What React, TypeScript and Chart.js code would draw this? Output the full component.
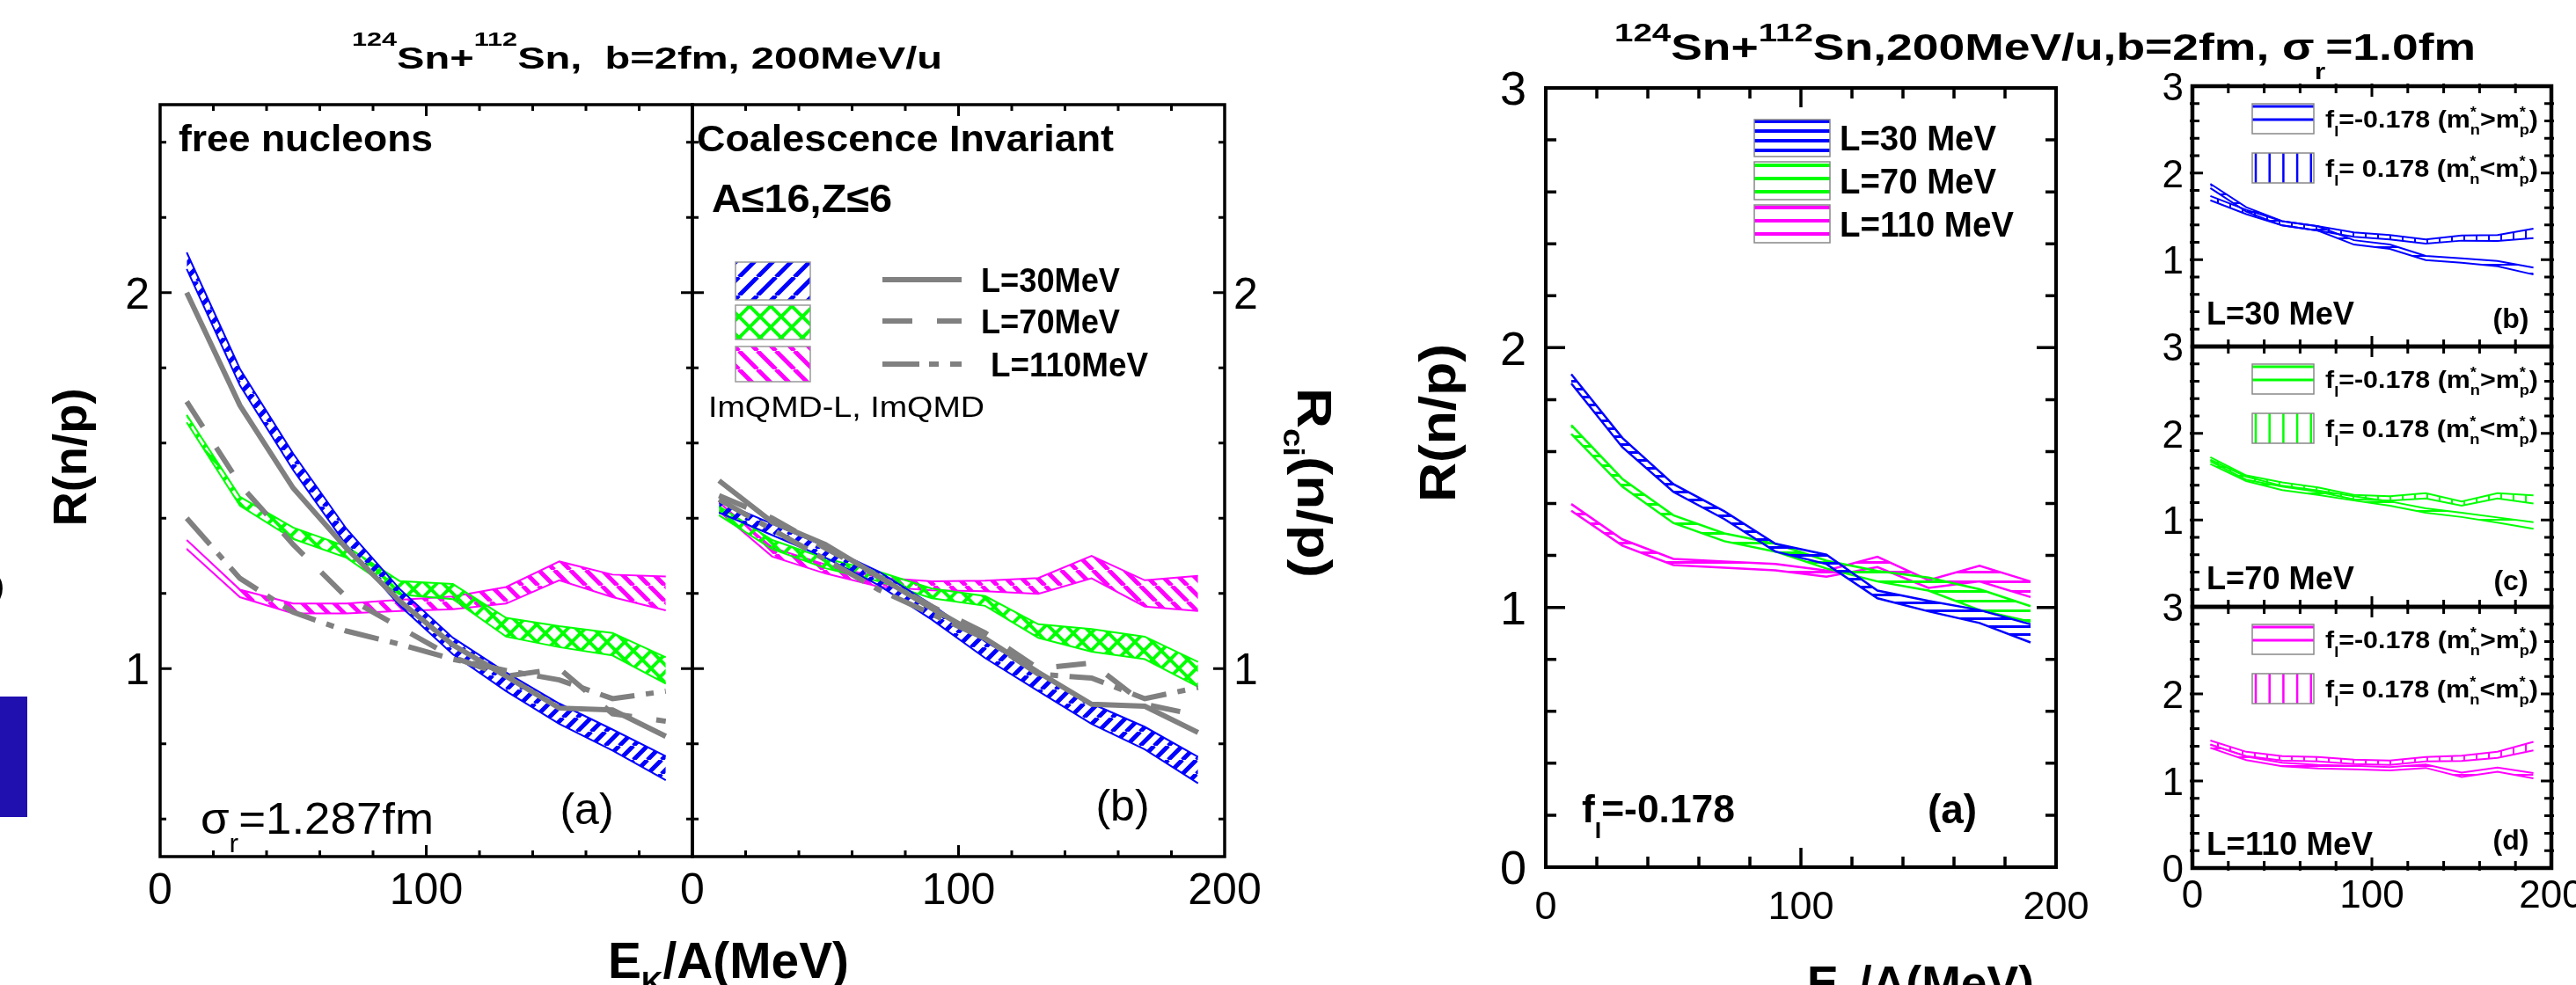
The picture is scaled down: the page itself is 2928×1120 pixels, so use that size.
import React, { useEffect, useRef } from 'react';
import { Chart, registerables } from 'chart.js';

Chart.register(...registerables);

const CW = 2928;
const CH = 1120;
const FONT = "'Liberation Sans', Arial, Helvetica, sans-serif";

// ---------------- data ----------------
const ENERGY = [10, 30, 50, 70, 90, 110, 130, 150, 170, 190];

// tick labels
const LEFT_X_TICKS_A = [0, 100];
const LEFT_X_TICKS_B = [0, 100, 200];
const LEFT_Y_TICKS = [1, 2];
const BIG_X_TICKS = [0, 100, 200];
const BIG_Y_TICKS = [0, 1, 2, 3];
const SMALL_Y_TICKS_UPPER = [1, 2, 3];
const SMALL_Y_TICKS_BOTTOM = [0, 1, 2, 3];
const SMALL_X_TICKS = [0, 100, 200];

// Left figure, panel (a): free nucleons, ImQMD-L bands
const FREE_L30_UP = [2.107, 1.797, 1.572, 1.372, 1.212, 1.082, 0.99, 0.907, 0.838, 0.767];
const FREE_L30_LO = [2.063, 1.753, 1.528, 1.328, 1.168, 1.038, 0.94, 0.853, 0.782, 0.703];
const FREE_L70_UP = [1.675, 1.457, 1.375, 1.325, 1.233, 1.225, 1.135, 1.113, 1.095, 1.03];
const FREE_L70_LO = [1.655, 1.433, 1.345, 1.295, 1.197, 1.185, 1.085, 1.057, 1.035, 0.96];
const FREE_L110_UP = [1.342, 1.21, 1.173, 1.173, 1.183, 1.192, 1.217, 1.285, 1.25, 1.245];
const FREE_L110_LO = [1.318, 1.19, 1.147, 1.147, 1.153, 1.158, 1.173, 1.235, 1.19, 1.155];
// ImQMD lines (gray)
const FREE_IMQMD_L30 = [2.0, 1.7, 1.48, 1.32, 1.18, 1.063, 0.98, 0.895, 0.89, 0.82];
const FREE_IMQMD_L70 = [1.71, 1.49, 1.33, 1.19, 1.11, 1.03, 0.98, 1.0, 0.88, 0.86];
const FREE_IMQMD_L110 = [1.4, 1.24, 1.15, 1.1, 1.065, 1.025, 0.995, 0.97, 0.92, 0.94];

// Left figure, panel (b): coalescence invariant
const CI_L30_UP = [1.445, 1.385, 1.325, 1.258, 1.17, 1.072, 0.99, 0.907, 0.845, 0.765];
const CI_L30_LO = [1.415, 1.355, 1.295, 1.222, 1.13, 1.028, 0.94, 0.853, 0.785, 0.695];
const CI_L70_UP = [1.432, 1.342, 1.293, 1.258, 1.213, 1.193, 1.118, 1.105, 1.085, 1.018];
const CI_L70_LO = [1.408, 1.318, 1.267, 1.232, 1.187, 1.167, 1.082, 1.045, 1.025, 0.952];
const CI_L110_UP = [1.442, 1.322, 1.277, 1.242, 1.232, 1.234, 1.241, 1.3, 1.235, 1.247];
const CI_L110_LO = [1.418, 1.298, 1.253, 1.218, 1.208, 1.206, 1.199, 1.24, 1.165, 1.153];
const CI_IMQMD_L30 = [1.5, 1.39, 1.33, 1.245, 1.16, 1.08, 0.99, 0.905, 0.9, 0.83];
const CI_IMQMD_L70 = [1.46, 1.4, 1.32, 1.245, 1.165, 1.095, 1.0, 1.015, 0.905, 0.876];
const CI_IMQMD_L110 = [1.45, 1.37, 1.29, 1.21, 1.145, 1.08, 0.985, 0.975, 0.92, 0.95];

// Right figure, big panel (a): fI = -0.178
const BIG_L30_UP = [1.898, 1.653, 1.475, 1.37, 1.245, 1.203, 1.065, 1.025, 0.99, 0.935];
const BIG_L30_LO = [1.862, 1.617, 1.445, 1.34, 1.215, 1.167, 1.035, 0.985, 0.94, 0.865];
const BIG_L70_UP = [1.702, 1.495, 1.355, 1.285, 1.245, 1.18, 1.14, 1.115, 1.07, 1.005];
const BIG_L70_LO = [1.668, 1.465, 1.325, 1.255, 1.215, 1.15, 1.1, 1.065, 0.99, 0.945];
const BIG_L110_UP = [1.398, 1.262, 1.187, 1.177, 1.167, 1.142, 1.195, 1.105, 1.16, 1.1];
const BIG_L110_LO = [1.372, 1.238, 1.163, 1.153, 1.143, 1.118, 1.155, 1.075, 1.1, 1.04];

// Right figure, small panels: fI = -0.178 (NEG) and fI = +0.178 (POS)
const S30_NEG_UP = [1.875, 1.605, 1.445, 1.385, 1.225, 1.175, 1.045, 1.015, 0.985, 0.91];
const S30_NEG_LO = [1.825, 1.555, 1.395, 1.335, 1.175, 1.125, 0.995, 0.965, 0.925, 0.83];
const S30_POS_UP = [1.735, 1.575, 1.445, 1.385, 1.315, 1.285, 1.235, 1.28, 1.285, 1.357];
const S30_POS_LO = [1.685, 1.525, 1.395, 1.335, 1.265, 1.235, 1.185, 1.22, 1.215, 1.249];
const S70_NEG_UP = [1.695, 1.5, 1.395, 1.34, 1.275, 1.215, 1.135, 1.085, 1.03, 0.975];
const S70_NEG_LO = [1.645, 1.45, 1.345, 1.29, 1.225, 1.165, 1.085, 1.035, 0.97, 0.9];
const S70_POS_UP = [1.725, 1.515, 1.435, 1.375, 1.29, 1.275, 1.31, 1.215, 1.31, 1.285];
const S70_POS_LO = [1.675, 1.465, 1.385, 1.325, 1.24, 1.225, 1.25, 1.165, 1.25, 1.19];
const S110_NEG_UP = [1.42, 1.28, 1.21, 1.185, 1.175, 1.16, 1.19, 1.095, 1.155, 1.09];
const S110_NEG_LO = [1.38, 1.24, 1.17, 1.145, 1.135, 1.12, 1.15, 1.045, 1.105, 1.03];
const S110_POS_UP = [1.465, 1.335, 1.285, 1.275, 1.245, 1.235, 1.275, 1.29, 1.335, 1.45];
const S110_POS_LO = [1.415, 1.285, 1.235, 1.225, 1.195, 1.185, 1.225, 1.23, 1.265, 1.35];

// ---------------- styles / layout ----------------
const BLUE = '#0000ff';
const GREEN = '#00ff00';
const MAGENTA = '#ff00ff';
const GRAY = '#808080';

const AREA_A = { l: 182, t: 119, r: 787, b: 974 };
const AREA_B = { l: 787, t: 119, r: 1392, b: 974 };
const AREA_BIG = { l: 1757, t: 100, r: 2337, b: 986 };
const AREA_S1 = { l: 2492, t: 98, r: 2900, b: 394 };
const AREA_S2 = { l: 2492, t: 394, r: 2900, b: 690 };
const AREA_S3 = { l: 2492, t: 690, r: 2900, b: 987 };

const DASH_L70 = [34, 28];
const DASH_L110 = [40, 13, 9, 13];

type Seg = { t: string; s?: number; dy?: number; up?: string };

function rich(ctx: any, segs: Seg[], x: number, y: number, o: any) {
  const f = (sz: number) => `${o.bold ? 'bold ' : ''}${sz}px ${FONT}`;
  ctx.save();
  const ws: number[] = [];
  let total = 0;
  for (const g of segs) {
    const sz = o.size * (g.s ?? 1);
    ctx.font = f(sz);
    let w = ctx.measureText(g.t).width;
    if (g.up) w = Math.max(w, ctx.measureText(g.up).width);
    ws.push(w);
    total += w;
  }
  const sx = o.width ? o.width / total : 1;
  ctx.translate(x, y);
  if (o.rot) ctx.rotate(o.rot);
  ctx.scale(sx, 1);
  let cx = o.align === 'center' ? -total / 2 : o.align === 'right' ? -total : 0;
  const base = (o.vc ?? 0) * o.size;
  ctx.fillStyle = o.color ?? '#000';
  ctx.textAlign = 'left';
  ctx.textBaseline = 'alphabetic';
  segs.forEach((g, i) => {
    const sz = o.size * (g.s ?? 1);
    ctx.font = f(sz);
    ctx.fillText(g.t, cx, base + (g.dy ?? 0) * o.size);
    if (g.up) ctx.fillText(g.up, cx, base - 0.42 * o.size);
    cx += ws[i];
  });
  ctx.restore();
}

function frameAndTicks(ctx: any, chart: any, o: any) {
  const { left, right, top, bottom } = chart.chartArea;
  const xs = chart.scales.x;
  const ys = chart.scales.y;
  const out = o.out ?? 0;
  ctx.save();
  ctx.strokeStyle = '#000';
  ctx.lineWidth = o.tickW;
  ctx.lineCap = 'butt';
  ctx.beginPath();
  const xr = Math.round(o.xMajor / o.xMinor);
  for (let k = Math.ceil(xs.min / o.xMinor - 1e-6); k <= Math.floor(xs.max / o.xMinor + 1e-6); k++) {
    const v = k * o.xMinor;
    if (Math.abs(v - xs.min) < 1e-6 || Math.abs(v - xs.max) < 1e-6) continue;
    const px = xs.getPixelForValue(v);
    const len = k % xr === 0 ? o.majLen : o.minLen;
    ctx.moveTo(px, bottom + out);
    ctx.lineTo(px, bottom - len);
    ctx.moveTo(px, top - out);
    ctx.lineTo(px, top + len);
  }
  const yr = Math.round(o.yMajor / o.yMinor);
  for (let k = Math.ceil(ys.min / o.yMinor - 1e-6); k <= Math.floor(ys.max / o.yMinor + 1e-6); k++) {
    const v = k * o.yMinor;
    if (Math.abs(v - ys.min) < 1e-6 || Math.abs(v - ys.max) < 1e-6) continue;
    const py = ys.getPixelForValue(v);
    const len = k % yr === 0 ? o.majLen : o.minLen;
    ctx.moveTo(left - out, py);
    ctx.lineTo(left + len, py);
    ctx.moveTo(right + out, py);
    ctx.lineTo(right - len, py);
  }
  ctx.stroke();
  ctx.lineWidth = o.frameW;
  ctx.strokeRect(left, top, right - left, bottom - top);
  ctx.restore();
}

function xLabels(ctx: any, chart: any, ticks: number[], size: number, cy: number) {
  const xs = chart.scales.x;
  for (const v of ticks) rich(ctx, [{ t: String(v) }], xs.getPixelForValue(v), cy, { size, align: 'center', vc: 0.36 });
}
function yLabels(ctx: any, chart: any, ticks: number[], size: number, x: number, align: string) {
  const ys = chart.scales.y;
  for (const v of ticks) rich(ctx, [{ t: String(v) }], x, ys.getPixelForValue(v), { size, align, vc: 0.36 });
}

function makePattern(ctx: any, kind: string, color: string, s: number, lw: number) {
  const c = document.createElement('canvas');
  c.width = s;
  c.height = s;
  const g = c.getContext('2d') as CanvasRenderingContext2D;
  g.strokeStyle = color;
  g.fillStyle = color;
  g.lineWidth = lw;
  if (kind === 'up' || kind === 'cross') {
    g.beginPath();
    for (let k = -1; k <= 1; k++) { g.moveTo(k * s, s); g.lineTo(k * s + s, 0); }
    g.stroke();
  }
  if (kind === 'down' || kind === 'cross') {
    g.beginPath();
    for (let k = -1; k <= 1; k++) { g.moveTo(k * s, 0); g.lineTo(k * s + s, s); }
    g.stroke();
  }
  if (kind === 'h') g.fillRect(0, 0, s, lw);
  if (kind === 'v') g.fillRect(0, 0, lw, s);
  return ctx.createPattern(c, 'repeat');
}

function pts(ys: number[]) {
  return ENERGY.map((x, i) => ({ x, y: ys[i] }));
}
function band(up: number[], lo: number[], color: string, pattern: any, lw: number) {
  return [
    { data: pts(up), borderColor: color, borderWidth: lw, backgroundColor: pattern, fill: '+1', pointRadius: 0, order: 1 },
    { data: pts(lo), borderColor: color, borderWidth: lw, fill: false, pointRadius: 0, order: 1 },
  ];
}
function grayLine(ys: number[], dash: number[]) {
  return { data: pts(ys), borderColor: GRAY, borderWidth: 6, borderDash: dash, fill: false, pointRadius: 0, order: 0 };
}

function makeChart(canvas: HTMLCanvasElement, area: any, yMin: number, yMax: number, datasets: any[], deco: (c: any) => void) {
  return new Chart(canvas, {
    type: 'line',
    data: { datasets },
    options: {
      responsive: false,
      animation: false,
      devicePixelRatio: 1,
      events: [],
      layout: { padding: { left: area.l, top: area.t, right: CW - area.r, bottom: CH - area.b } },
      scales: {
        x: { type: 'linear', min: 0, max: 200, display: false },
        y: { type: 'linear', min: yMin, max: yMax, display: false },
      },
      elements: { line: { tension: 0, borderCapStyle: 'butt' }, point: { radius: 0 } },
      plugins: { legend: { display: false }, tooltip: { enabled: false } },
    } as any,
    plugins: [{ id: 'deco', afterDraw: (c: any) => deco(c) }],
  });
}

const LEFT_FRAME = { frameW: 3.5, tickW: 3, xMinor: 20, xMajor: 100, yMinor: 0.2, yMajor: 1, majLen: 13, minLen: 7 };
const BIG_FRAME = { frameW: 4, tickW: 3.5, xMinor: 20, xMajor: 100, yMinor: 0.2, yMajor: 1, majLen: 22, minLen: 12 };
const SMALL_FRAME = { frameW: 4.5, tickW: 3, xMinor: 20, xMajor: 100, yMinor: 0.2, yMajor: 1, majLen: 12, minLen: 8, out: 3 };

const mStar = (sub: string): Seg => ({ t: sub, s: 0.6, dy: 0.3, up: '*' });

function smallLegend(ctx: any, top: number, color: string, patNeg: any, patPos: any) {
  const bx = 2560;
  const bw = 70;
  // box 1: horizontal lines
  ctx.save();
  ctx.fillStyle = '#fff';
  ctx.fillRect(bx, top + 20, bw, 34);
  ctx.strokeStyle = color;
  ctx.lineWidth = 3;
  ctx.beginPath();
  ctx.moveTo(bx, top + 23); ctx.lineTo(bx + bw, top + 23);
  ctx.moveTo(bx, top + 38); ctx.lineTo(bx + bw, top + 38);
  ctx.stroke();
  ctx.strokeStyle = '#888';
  ctx.lineWidth = 1.5;
  ctx.strokeRect(bx, top + 20, bw, 34);
  // box 2: vertical lines
  ctx.fillStyle = '#fff';
  ctx.fillRect(bx, top + 76, bw, 34);
  ctx.strokeStyle = color;
  ctx.lineWidth = 2.5;
  ctx.beginPath();
  for (let i = 0; i < 5; i++) {
    const x = bx + 4 + i * 15.7;
    ctx.moveTo(x, top + 76); ctx.lineTo(x, top + 110);
  }
  ctx.stroke();
  ctx.strokeStyle = '#888';
  ctx.lineWidth = 1.5;
  ctx.strokeRect(bx, top + 76, bw, 34);
  ctx.restore();
  rich(ctx, [{ t: 'f' }, { t: 'I', s: 0.6, dy: 0.35 }, { t: '=-0.178 (m' }, mStar('n'), { t: '>m' }, mStar('p'), { t: ')' }], 2643, top + 47, { size: 28, bold: true, width: 242 });
  rich(ctx, [{ t: 'f' }, { t: 'I', s: 0.6, dy: 0.35 }, { t: '= 0.178 (m' }, mStar('n'), { t: '<m' }, mStar('p'), { t: ')' }], 2643, top + 103, { size: 28, bold: true, width: 242 });
}

export default function App() {
  const refs = useRef<(HTMLCanvasElement | null)[]>([]);

  useEffect(() => {
    const charts: any[] = [];
    const cv = refs.current as HTMLCanvasElement[];

    // ---------- panel (a) left ----------
    {
      const ctx = cv[0].getContext('2d');
      const pBlue = makePattern(ctx, 'up', BLUE, 16, 5);
      const pGreen = makePattern(ctx, 'cross', GREEN, 20, 4);
      const pMag = makePattern(ctx, 'down', MAGENTA, 18, 5);
      const ds = [
        grayLine(FREE_IMQMD_L30, []),
        grayLine(FREE_IMQMD_L70, DASH_L70),
        grayLine(FREE_IMQMD_L110, DASH_L110),
        ...band(FREE_L30_UP, FREE_L30_LO, BLUE, pBlue, 2),
        ...band(FREE_L70_UP, FREE_L70_LO, GREEN, pGreen, 2),
        ...band(FREE_L110_UP, FREE_L110_LO, MAGENTA, pMag, 2),
      ];
      charts.push(makeChart(cv[0], AREA_A, 0.5, 2.5, ds, (c) => {
        const g = c.ctx;
        frameAndTicks(g, c, LEFT_FRAME);
        xLabels(g, c, LEFT_X_TICKS_A, 50, 1010);
        yLabels(g, c, LEFT_Y_TICKS, 50, 170, 'right');
        rich(g, [{ t: '124', s: 0.65, dy: -0.75 }, { t: 'Sn+' }, { t: '112', s: 0.65, dy: -0.75 }, { t: 'Sn,  b=2fm, 200MeV/u' }], 400, 78, { size: 35, bold: true, width: 671 });
        rich(g, [{ t: 'free nucleons' }], 203, 172, { size: 42, bold: true, width: 289 });
        rich(g, [{ t: 'σ' }, { t: 'r', s: 0.6, dy: 0.42 }, { t: '=1.287fm' }], 228, 948, { size: 50, width: 265 });
        rich(g, [{ t: '(a)' }], 667, 924, { size: 50, align: 'center', vc: 0.26 });
        rich(g, [{ t: 'R(n/p)' }], 84, 520, { size: 54, bold: true, align: 'center', rot: -Math.PI / 2, vc: 0.26, width: 157 });
        rich(g, [{ t: 'E' }, { t: 'K', s: 0.6, dy: 0.3 }, { t: '/A(MeV)' }], 828, 1112, { size: 57, bold: true, align: 'center', width: 274 });
        g.save();
        g.fillStyle = '#2010b0';
        g.fillRect(0, 792, 31, 137);
        g.restore();
        rich(g, [{ t: 'O' }], -18, 668, { size: 60, bold: true, align: 'center', vc: 0.36 });
      }));
    }

    // ---------- panel (b) left ----------
    {
      const ctx = cv[1].getContext('2d');
      const pBlue = makePattern(ctx, 'up', BLUE, 16, 5);
      const pGreen = makePattern(ctx, 'cross', GREEN, 20, 4);
      const pMag = makePattern(ctx, 'down', MAGENTA, 18, 5);
      const lBlue = makePattern(ctx, 'up', BLUE, 21, 5);
      const lGreen = makePattern(ctx, 'cross', GREEN, 24, 4);
      const lMag = makePattern(ctx, 'down', MAGENTA, 21, 5);
      const ds = [
        grayLine(CI_IMQMD_L30, []),
        grayLine(CI_IMQMD_L70, DASH_L70),
        grayLine(CI_IMQMD_L110, DASH_L110),
        ...band(CI_L30_UP, CI_L30_LO, BLUE, pBlue, 2),
        ...band(CI_L70_UP, CI_L70_LO, GREEN, pGreen, 2),
        ...band(CI_L110_UP, CI_L110_LO, MAGENTA, pMag, 2),
      ];
      charts.push(makeChart(cv[1], AREA_B, 0.5, 2.5, ds, (c) => {
        const g = c.ctx;
        frameAndTicks(g, c, LEFT_FRAME);
        xLabels(g, c, LEFT_X_TICKS_B, 50, 1010);
        yLabels(g, c, LEFT_Y_TICKS, 50, 1402, 'left');
        rich(g, [{ t: 'Coalescence Invariant' }], 792, 172, { size: 42, bold: true, width: 474 });
        rich(g, [{ t: 'A≤16,Z≤6' }], 809, 241, { size: 45, bold: true, width: 205 });
        rich(g, [{ t: '(b)' }], 1276, 920, { size: 50, align: 'center', vc: 0.26 });
        rich(g, [{ t: 'R' }, { t: 'ci', s: 0.6, dy: 0.3 }, { t: '(n/p)' }], 1490, 549, { size: 56, bold: true, align: 'center', rot: Math.PI / 2, vc: 0.26, width: 216 });
        // legend
        const boxes = [[298, 43, lBlue], [347, 39, lGreen], [394, 40, lMag]];
        g.save();
        for (const [y, h, p] of boxes as any) {
          g.fillStyle = p;
          g.fillRect(836, y, 85, h);
          g.strokeStyle = '#999';
          g.lineWidth = 1.5;
          g.strokeRect(836, y, 85, h);
        }
        g.strokeStyle = GRAY;
        g.lineWidth = 6;
        const samples: [number, number[]][] = [[318, []], [365, DASH_L70], [414, [42, 11, 11, 13]]];
        for (const [y, d] of samples) {
          g.setLineDash(d);
          g.beginPath();
          g.moveTo(1003, y);
          g.lineTo(1093, y);
          g.stroke();
        }
        g.setLineDash([]);
        g.restore();
        rich(g, [{ t: 'L=30MeV' }], 1115, 332, { size: 38, bold: true, width: 158 });
        rich(g, [{ t: 'L=70MeV' }], 1115, 379, { size: 38, bold: true, width: 158 });
        rich(g, [{ t: 'L=110MeV' }], 1126, 428, { size: 38, bold: true, width: 179 });
        rich(g, [{ t: 'ImQMD-L, ImQMD' }], 805, 474, { size: 34, width: 314 });
      }));
    }

    // ---------- big right panel ----------
    {
      const ctx = cv[2].getContext('2d');
      const pBlue = makePattern(ctx, 'h', BLUE, 9, 3);
      const pGreen = makePattern(ctx, 'h', GREEN, 11, 3);
      const pMag = makePattern(ctx, 'h', MAGENTA, 11, 3);
      const ds = [
        ...band(BIG_L30_UP, BIG_L30_LO, BLUE, pBlue, 2.5),
        ...band(BIG_L70_UP, BIG_L70_LO, GREEN, pGreen, 2.5),
        ...band(BIG_L110_UP, BIG_L110_LO, MAGENTA, pMag, 2.5),
      ];
      charts.push(makeChart(cv[2], AREA_BIG, 0, 3, ds, (c) => {
        const g = c.ctx;
        frameAndTicks(g, c, BIG_FRAME);
        xLabels(g, c, BIG_X_TICKS, 45, 1029);
        yLabels(g, c, BIG_Y_TICKS, 54, 1735, 'right');
        rich(g, [{ t: '124', s: 0.72, dy: -0.5 }, { t: 'Sn+' }, { t: '112', s: 0.72, dy: -0.5 }, { t: 'Sn,200MeV/u,b=2fm, σ' }, { t: 'r', s: 0.6, dy: 0.52 }, { t: '=1.0fm' }], 1835, 68, { size: 42, bold: true, width: 979 });
        rich(g, [{ t: 'R(n/p)' }], 1639, 481, { size: 58, bold: true, align: 'center', rot: -Math.PI / 2, vc: 0.26, width: 180 });
        rich(g, [{ t: 'E' }, { t: 'K', s: 0.6, dy: 0.3 }, { t: '/A(MeV)' }], 2183, 1136, { size: 54, bold: true, align: 'center', width: 258 });
        rich(g, [{ t: 'f' }, { t: 'I', s: 0.6, dy: 0.4 }, { t: '=-0.178' }], 1798, 935, { size: 44, bold: true, width: 174 });
        rich(g, [{ t: '(a)' }], 2219, 924, { size: 46, bold: true, align: 'center', vc: 0.26 });
        // legend
        const items: [number, number, string, number, number, string, number][] = [
          [136, 42, BLUE, 2, 11, 'L=30 MeV', 178],
          [184, 43, GREEN, 4, 15, 'L=70 MeV', 178],
          [233, 43, MAGENTA, 3, 15, 'L=110 MeV', 198],
        ];
        g.save();
        for (const [y, h, col, off, sp, label, w] of items) {
          g.fillStyle = '#fff';
          g.fillRect(1994, y, 86, h);
          g.strokeStyle = col;
          g.lineWidth = 4;
          g.beginPath();
          for (let yy = y + off; yy < y + h; yy += sp) { g.moveTo(1994, yy); g.lineTo(2080, yy); }
          g.stroke();
          g.strokeStyle = '#888';
          g.lineWidth = 1.5;
          g.strokeRect(1994, y, 86, h);
          rich(g, [{ t: label }], 2091, y + h / 2, { size: 40, bold: true, vc: 0.36, width: w });
        }
        g.restore();
      }));
    }

    // ---------- small panels ----------
    const smallDefs = [
      { area: AREA_S1, neg: [S30_NEG_UP, S30_NEG_LO], pos: [S30_POS_UP, S30_POS_LO], color: BLUE, label: 'L=30 MeV', lw: 168, lb: 369, tag: '(b)', tb: 373, yt: SMALL_Y_TICKS_UPPER, xl: false },
      { area: AREA_S2, neg: [S70_NEG_UP, S70_NEG_LO], pos: [S70_POS_UP, S70_POS_LO], color: GREEN, label: 'L=70 MeV', lw: 168, lb: 670, tag: '(c)', tb: 671, yt: SMALL_Y_TICKS_UPPER, xl: false },
      { area: AREA_S3, neg: [S110_NEG_UP, S110_NEG_LO], pos: [S110_POS_UP, S110_POS_LO], color: MAGENTA, label: 'L=110 MeV', lw: 189, lb: 972, tag: '(d)', tb: 966, yt: SMALL_Y_TICKS_BOTTOM, xl: true },
    ];
    smallDefs.forEach((d, i) => {
      const canvas = cv[3 + i];
      const ctx = canvas.getContext('2d');
      const pNeg = makePattern(ctx, 'h', d.color, 10, 2);
      const pPos = makePattern(ctx, 'v', d.color, 14, 2);
      const ds = [
        ...band(d.neg[0], d.neg[1], d.color, pNeg, 2),
        ...band(d.pos[0], d.pos[1], d.color, pPos, 2),
      ];
      charts.push(makeChart(canvas, d.area, 0, 3, ds, (c) => {
        const g = c.ctx;
        frameAndTicks(g, c, SMALL_FRAME);
        yLabels(g, c, d.yt, 44, 2482, 'right');
        if (d.xl) xLabels(g, c, SMALL_X_TICKS, 44, 1016);
        smallLegend(g, d.area.t, d.color, pNeg, pPos);
        rich(g, [{ t: d.label }], 2508, d.lb, { size: 36, bold: true, width: d.lw });
        rich(g, [{ t: d.tag }], 2854, d.tb, { size: 32, bold: true, align: 'center' });
      }));
    });

    return () => charts.forEach((c) => c.destroy());
  }, []);

  return (
    <div style={{ position: 'absolute', left: 0, top: 0, width: CW, height: CH, background: '#fff', overflow: 'hidden' }}>
      {[0, 1, 2, 3, 4, 5].map((i) => (
        <canvas
          key={i}
          ref={(el) => { refs.current[i] = el; }}
          width={CW}
          height={CH}
          style={{ position: 'absolute', left: 0, top: 0, width: CW, height: CH }}
        />
      ))}
    </div>
  );
}
